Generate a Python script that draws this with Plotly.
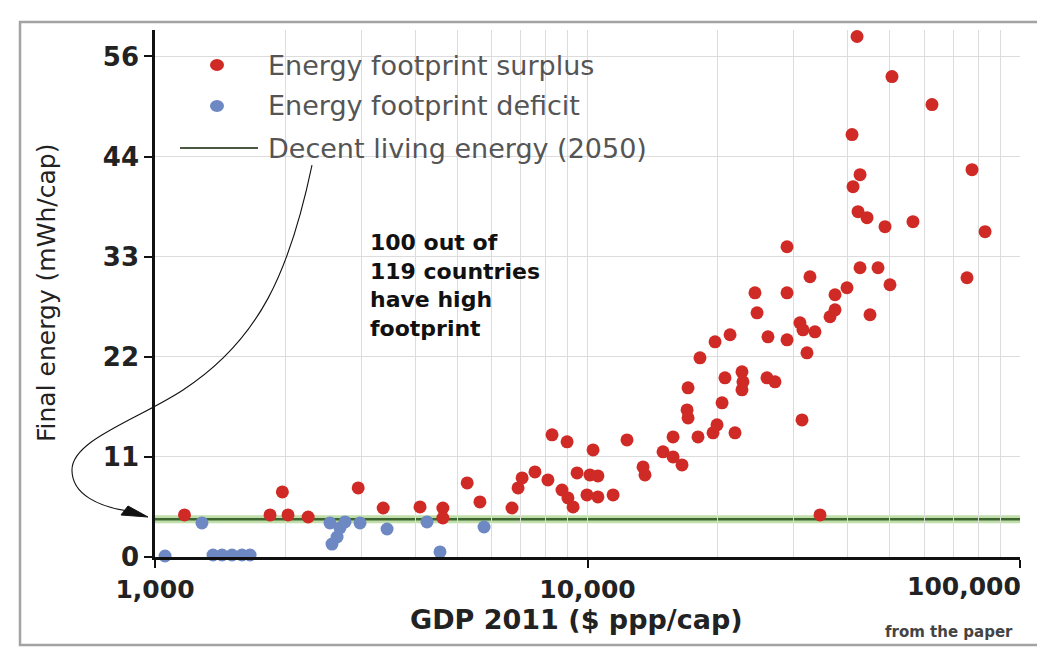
import plotly.graph_objects as go

# ---------------- data ----------------
surplus_gdp = [1170, 1845, 1970, 2030, 2260, 2950, 3370, 4100, 4630, 4630,
               5270, 5640, 6690, 6910, 7060, 7560, 8100, 8730, 9010, 9260,
               8280, 8970, 10300, 12340, 9460, 10130, 10570, 9970, 10570, 11460,
               13440, 13580, 14950, 15770, 16540, 15770, 17080, 16990, 17080, 18010,
               19510, 19930, 21930, 18200, 19720, 21360, 20470, 20790, 22760, 22880,
               22760, 26000, 27130, 24660, 24390, 28930, 28930, 32690, 26140, 28930,
               30990, 31490, 33570, 32170, 31330, 34480, 37350, 39810, 36370, 37350,
               45000, 42670, 46960, 50050, 75420, 42220, 44290, 48740, 56560, 83030,
               77450, 42670, 41110, 40890, 42000, 50580, 62590]
surplus_energy = [4.67, 4.67, 7.22, 4.67, 4.44, 7.67, 5.44, 5.56, 5.44, 4.33,
                  8.22, 6.11, 5.44, 7.67, 8.78, 9.44, 8.56, 7.44, 6.56, 5.56,
                  13.56, 12.78, 11.89, 13.0, 9.33, 9.11, 9.0, 6.89, 6.67, 6.89,
                  10.0, 9.11, 11.67, 11.11, 10.22, 13.33, 18.78, 16.33, 15.44, 13.33,
                  13.78, 14.67, 13.78, 22.11, 23.89, 24.67, 17.11, 19.89, 20.56, 19.44,
                  18.56, 19.89, 19.44, 27.11, 29.33, 29.33, 34.44, 31.11, 24.44, 24.11,
                  26.0, 25.22, 25.0, 22.67, 15.22, 4.67, 29.11, 29.89, 26.67, 27.44,
                  26.89, 32.11, 32.11, 30.22, 31.0, 38.33, 37.67, 36.67, 37.22, 36.11,
                  43.0, 42.44, 41.11, 46.89, 57.78, 53.33, 50.22]

deficit_gdp = [1055, 1284, 1362, 1429, 1507, 1589, 1659, 2539, 2677, 2636,
               2566, 2750, 2979, 3440, 4255, 4560, 5765]
deficit_energy = [0.11, 3.78, 0.22, 0.22, 0.22, 0.22, 0.22, 3.78, 3.22, 2.22,
                  1.44, 3.89, 3.78, 3.11, 3.89, 0.56, 3.33]

decent_living_energy_2050 = 4.2

y_tick_vals = [0, 11.11, 22.22, 33.33, 44.44, 55.56]
y_tick_text = ["0", "11", "22", "33", "44", "56"]
x_tick_vals = [1000, 10000, 100000]
x_tick_text = ["1,000", "10,000", "100,000"]

legend_labels = ["Energy footprint surplus", "Energy footprint deficit",
                 "Decent living energy (2050)"]

# ---------------- layout helpers ----------------
# the page body has an 8px default margin, so the figure is laid out
# in page coordinates shifted by OFF
OFF = 8
W, H = 1045 - OFF, 652 - OFF
ML, MR, MT, MB = 155 - OFF, 25, 30 - OFF, 95
PW, PH = W - ML - MR, H - MT - MB


def px(x):
    """page pixel x -> paper x"""
    return (x - OFF - ML) / PW


def py(y):
    """page pixel y -> paper y"""
    return (H - MB - (y - OFF)) / PH


FONT = "DejaVu Sans"
RED = "#cf2a25"
BLUE = "#6d88c3"
GRID = "#dcdcdc"

fig = go.Figure()

fig.add_trace(go.Scatter(
    x=deficit_gdp, y=deficit_energy, mode="markers", name=legend_labels[1],
    marker=dict(color=BLUE, size=13, line=dict(width=0)),
    cliponaxis=False, showlegend=False))
fig.add_trace(go.Scatter(
    x=surplus_gdp, y=surplus_energy, mode="markers", name=legend_labels[0],
    marker=dict(color=RED, size=13, line=dict(width=0)),
    cliponaxis=False, showlegend=False))

shapes = []
# outer frame
shapes.append(dict(type="rect", xref="paper", yref="paper",
                   x0=px(20), x1=px(1080), y0=py(645), y1=py(22),
                   line=dict(color="#a3a3a3", width=2.5), layer="below"))
# legend background (hides gridlines)
shapes.append(dict(type="rect", xref="paper", yref="paper",
                   x0=px(158), x1=px(752), y0=py(170), y1=py(40),
                   fillcolor="rgba(255,255,255,0.85)", line=dict(width=0),
                   layer="between"))
# decent living energy line (glow + core)
shapes.append(dict(type="line", xref="paper", yref="y", x0=0, x1=1,
                   y0=decent_living_energy_2050, y1=decent_living_energy_2050,
                   line=dict(color="rgba(140,195,100,0.55)", width=8),
                   layer="between"))
shapes.append(dict(type="line", xref="paper", yref="y", x0=0, x1=1,
                   y0=decent_living_energy_2050, y1=decent_living_energy_2050,
                   line=dict(color="#3d6530", width=2.5), layer="between"))

# legend symbols
for yy, col in [(65, RED), (106, BLUE)]:
    shapes.append(dict(type="circle", xref="paper", yref="paper",
                       xsizemode="pixel", ysizemode="pixel",
                       xanchor=px(217), yanchor=py(yy),
                       x0=-7, x1=7, y0=-6, y1=6,
                       fillcolor=col, line=dict(width=0)))
shapes.append(dict(type="line", xref="paper", yref="paper",
                   x0=px(180), x1=px(258), y0=py(148), y1=py(148),
                   line=dict(color="#4a5a40", width=2)))

# curved arrow from the legend line to the DLE line
pts = [("M", [(312, 165)]),
       ("C", [(290, 270), (260, 340), (183, 390)]),
       ("C", [(137, 420), (72, 440), (72, 470)]),
       ("C", [(72, 495), (100, 507), (128, 511)])]
path = " ".join(cmd + " " + " ".join(f"{px(a):.4f},{py(b):.4f}" for a, b in p)
                for cmd, p in pts)
shapes.append(dict(type="path", xref="paper", yref="paper", path=path,
                   line=dict(color="#111111", width=1.1)))
tri = [(148, 517), (128, 506), (121, 515)]
tri_path = "M " + " L ".join(f"{px(a):.4f},{py(b):.4f}" for a, b in tri) + " Z"
shapes.append(dict(type="path", xref="paper", yref="paper", path=tri_path,
                   fillcolor="#111111", line=dict(color="#111111", width=1)))

annotations = []
for yy, txt in zip([65, 106, 148], legend_labels):
    annotations.append(dict(xref="paper", yref="paper", x=px(266), y=py(yy),
                            xanchor="left", yanchor="middle", showarrow=False,
                            text=txt, font=dict(family=FONT, size=27, color="#555555")))
annotations.append(dict(xref="paper", yref="paper", x=px(368), y=py(228),
                        xanchor="left", yanchor="top", align="left", showarrow=False,
                        text="100 out of<br>119 countries<br>have high<br>footprint",
                        font=dict(family=FONT, size=22, color="#111111", weight="bold")))
annotations.append(dict(xref="paper", yref="paper", x=px(576), y=py(619),
                        xanchor="center", yanchor="middle", showarrow=False,
                        text="GDP 2011 ($ ppp/cap)",
                        font=dict(family=FONT, size=27, color="#222222", weight="bold")))
annotations.append(dict(xref="paper", yref="paper", x=px(46), y=py(293),
                        xanchor="center", yanchor="middle", showarrow=False,
                        textangle=-90, text="Final energy (mWh/cap)",
                        font=dict(family=FONT, size=25, color="#222222")))
annotations.append(dict(xref="paper", yref="paper", x=px(1023), y=py(586),
                        xanchor="right", yanchor="middle", showarrow=False,
                        text=x_tick_text[-1],
                        font=dict(family=FONT, size=25, color="#222222", weight="bold")))
annotations.append(dict(xref="paper", yref="paper", x=px(883), y=py(632),
                        xanchor="left", yanchor="middle", showarrow=False,
                        text="from the paper",
                        font=dict(family=FONT, size=15, color="#444444", weight="bold")))

fig.update_layout(
    width=W, height=H,
    margin=dict(l=ML, r=MR, t=MT, b=MB, pad=0),
    paper_bgcolor="white", plot_bgcolor="white",
    showlegend=False,
    shapes=shapes, annotations=annotations,
    xaxis=dict(type="log", range=[3, 5],
               tickvals=x_tick_vals, ticktext=x_tick_text[:-1] + [""],
               tickfont=dict(family=FONT, size=25, color="#222222", weight="bold"),
               ticks="outside", ticklen=8, tickwidth=2, tickcolor="#111111",
               ticklabelstandoff=0,
               showline=True, linecolor="#111111", linewidth=2.5,
               showgrid=True, gridcolor=GRID, gridwidth=1, zeroline=False,
               minor=dict(dtick="D1", showgrid=True, gridcolor=GRID, gridwidth=1, ticks="")),
    yaxis=dict(range=[0, 58.5],
               tickvals=y_tick_vals, ticktext=y_tick_text,
               tickfont=dict(family=FONT, size=26, color="#222222", weight="bold"),
               ticks="outside", ticklen=8, tickwidth=2, tickcolor="#111111",
               showline=True, linecolor="#111111", linewidth=2.5,
               showgrid=True, gridcolor=GRID, gridwidth=1, zeroline=False),
)

fig.write_html("out.html")
